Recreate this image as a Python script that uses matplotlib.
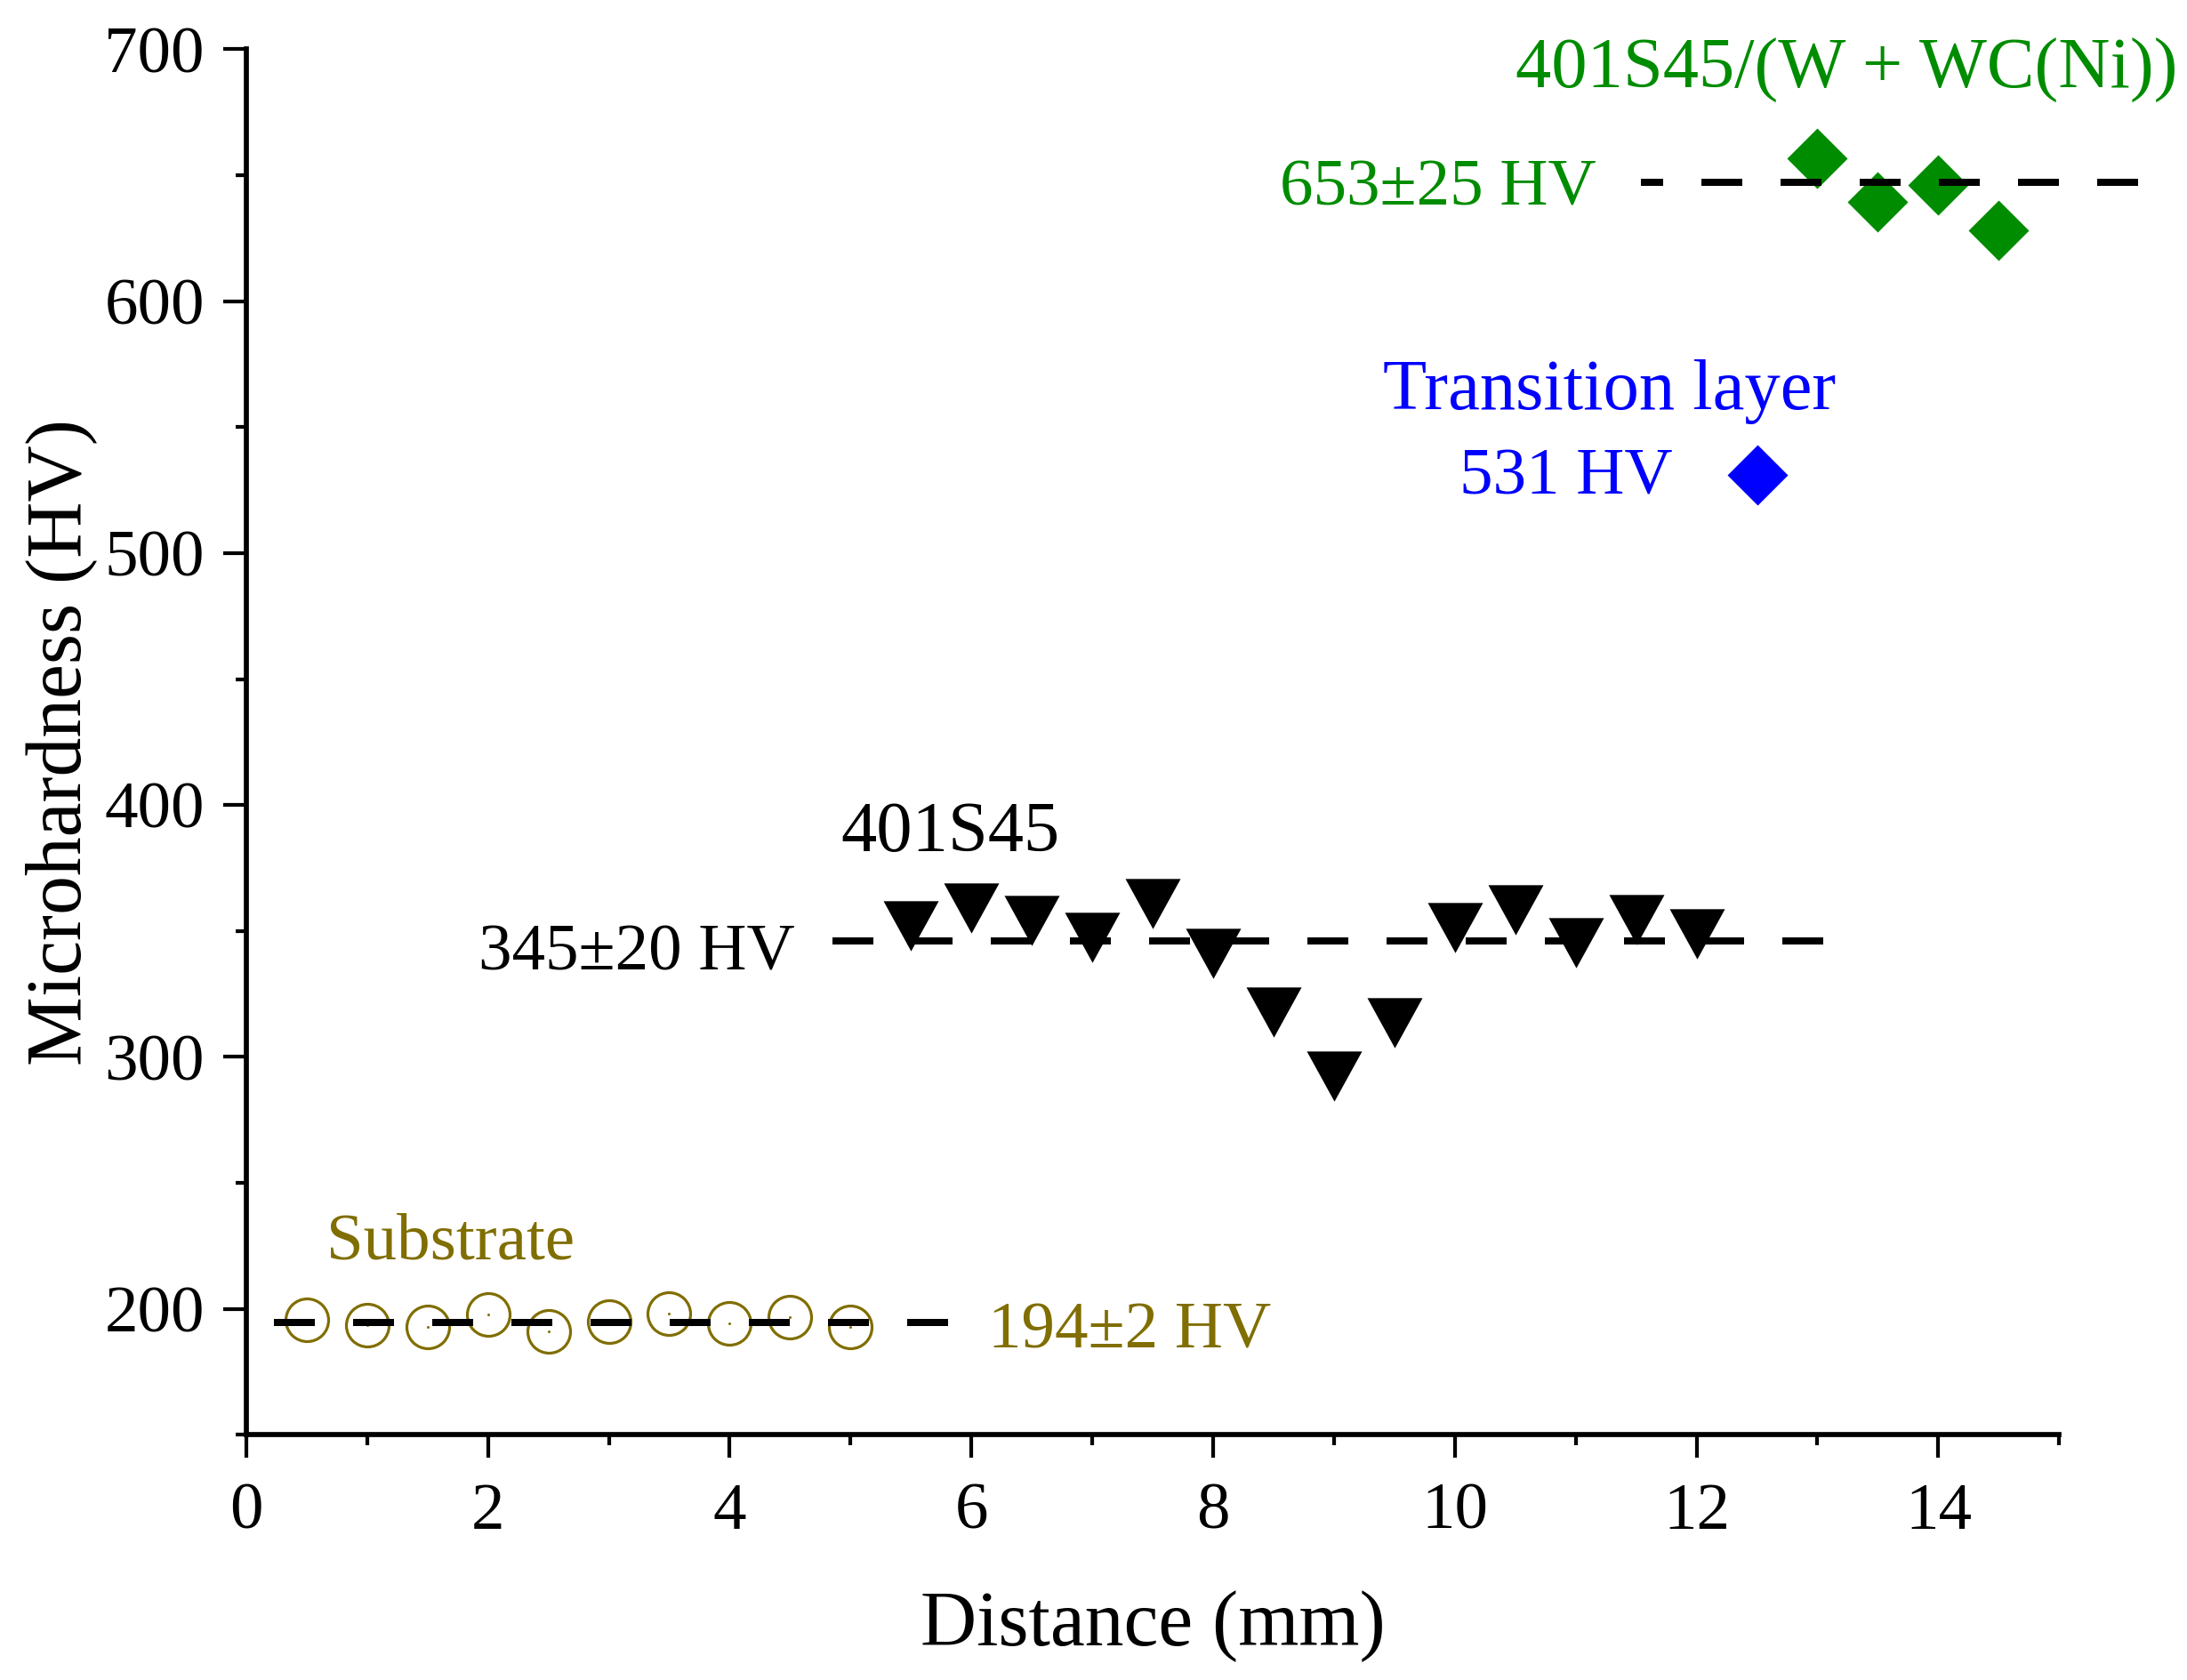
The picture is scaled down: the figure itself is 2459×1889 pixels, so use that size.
import matplotlib
matplotlib.use('Agg')
import matplotlib.pyplot as plt
from matplotlib.ticker import MultipleLocator

plt.rcParams['font.family'] = ['Liberation Serif', 'DejaVu Serif']

# ---------------- data ----------------
sub_x = [0.5, 1.0, 1.5, 2.0, 2.5, 3.0, 3.5, 4.0, 4.5, 5.0]
sub_y = [195.7, 193.5, 192.9, 197.7, 191.1, 195.1, 198.1, 194.2, 196.9, 192.9]

s45_x = [5.5, 6.0, 6.5, 7.0, 7.5, 8.0, 8.5, 9.0, 9.5, 10.0, 10.5, 11.0, 11.5, 12.0]
s45_y = [352.0, 359.2, 354.1, 347.5, 360.8, 341.0, 317.7, 292.5, 313.6,
         351.4, 358.4, 345.4, 354.6, 348.9]

trans_x = [12.5]
trans_y = [531]

comp_x = [13.0, 13.5, 14.0, 14.5]
comp_y = [656.7, 639.4, 646.2, 628.1]

sub_mean = 194.5
s45_mean = 346
comp_mean = 647

sub_line_x = [0.23, 5.82]
s45_line_x = [4.85, 13.07]
comp_line_x = [11.54, 15.67]

xticks = [0, 2, 4, 6, 8, 10, 12, 14]
yticks = [200, 300, 400, 500, 600, 700]

labels = {
    'comp': '401S45/(W + WC(Ni))',
    'comp_v': '653±25 HV',
    'trans': 'Transition layer',
    'trans_v': '531 HV',
    's45': '401S45',
    's45_v': '345±20 HV',
    'sub': 'Substrate',
    'sub_v': '194±2 HV',
}

# ---------------- style ----------------
OLIVE = '#806E00'
GREEN = '#008C00'
BLUE = '#0000FF'
DPI = 100
px = 72.0 / DPI  # points per pixel

fig = plt.figure(figsize=(24.59, 18.89), dpi=DPI)
ax = fig.add_axes([0.11257, 0.14590, 0.82899, 0.82482])

tri = [(-1.1, 1), (1.1, 1), (0, -1)]
dia = [(0, 1), (1, 0), (0, -1), (-1, 0)]

# markers
ax.plot(sub_x, sub_y, linestyle='none', marker='o', ms=48 * px,
        mfc='none', mec=OLIVE, mew=3.2 * px, zorder=3, clip_on=False)
ax.plot(sub_x, sub_y, linestyle='none', marker='o', ms=3 * px,
        mfc=OLIVE, mec='none', zorder=3)
ax.plot(s45_x, s45_y, linestyle='none', marker=tri, ms=62 * px,
        mfc='black', mec='none', zorder=3)
ax.plot(trans_x, trans_y, linestyle='none', marker=dia, ms=68 * px,
        mfc=BLUE, mec='none', zorder=3)
ax.plot(comp_x, comp_y, linestyle='none', marker=dia, ms=68 * px,
        mfc=GREEN, mec='none', zorder=3)

# dashed mean lines
lw_px = 8.0
dash = (46.0 / lw_px, 43.0 / lw_px)
ax.plot(sub_line_x, [sub_mean] * 2, color='black', lw=lw_px * px,
        linestyle=(0, dash), zorder=4, clip_on=False)
ax.plot(s45_line_x, [s45_mean] * 2, color='black', lw=lw_px * px,
        linestyle=(0, dash), zorder=4, clip_on=False)
ax.plot(comp_line_x, [comp_mean] * 2, color='black', lw=lw_px * px,
        linestyle=(21.0 / lw_px, dash), zorder=4, clip_on=False)

# axes
ax.set_xlim(0, 15)
ax.set_ylim(150, 700)
ax.xaxis.set_major_locator(MultipleLocator(2))
ax.xaxis.set_minor_locator(MultipleLocator(1))
ax.yaxis.set_major_locator(MultipleLocator(100))
ax.yaxis.set_minor_locator(MultipleLocator(50))
ax.set_xticks(xticks)
ax.set_yticks(yticks)
ax.set_xticklabels([str(v) for v in xticks])
ax.set_yticklabels([str(v) for v in yticks])

for s in ['top', 'right']:
    ax.spines[s].set_visible(False)
for s in ['left', 'bottom']:
    ax.spines[s].set_linewidth(5.7 * px)

ax.tick_params(which='major', direction='out', length=26 * px, width=4.2 * px,
               labelsize=54)
ax.tick_params(axis='x', which='major', pad=20)
ax.tick_params(axis='y', which='major', pad=15)
ax.tick_params(which='minor', direction='out', length=12 * px, width=4.2 * px)

ax.set_xlabel('Distance (mm)', fontsize=63)
ax.set_ylabel('Microhardness (HV)', fontsize=63)
ax.xaxis.set_label_coords(0.5, -0.112)
ax.yaxis.set_label_coords(-0.0823, 0.5)

# annotations
big = 58
small = 54
ax.text(10.50, 684.5, labels['comp'], color=GREEN, fontsize=big,
        ha='left', va='baseline', clip_on=False)
ax.text(11.17, 638.0, labels['comp_v'], color=GREEN, fontsize=small,
        ha='right', va='baseline')
ax.text(11.28, 557.1, labels['trans'], color=BLUE, fontsize=big,
        ha='center', va='baseline')
ax.text(11.80, 523.3, labels['trans_v'], color=BLUE, fontsize=small,
        ha='right', va='baseline')
ax.text(4.92, 381.6, labels['s45'], color='black', fontsize=big,
        ha='left', va='baseline')
ax.text(4.54, 334.5, labels['s45_v'], color='black', fontsize=small,
        ha='right', va='baseline')
ax.text(0.66, 219.7, labels['sub'], color=OLIVE, fontsize=small,
        ha='left', va='baseline')
ax.text(6.14, 184.7, labels['sub_v'], color=OLIVE, fontsize=small,
        ha='left', va='baseline')

fig.savefig('out.png', dpi=DPI)
